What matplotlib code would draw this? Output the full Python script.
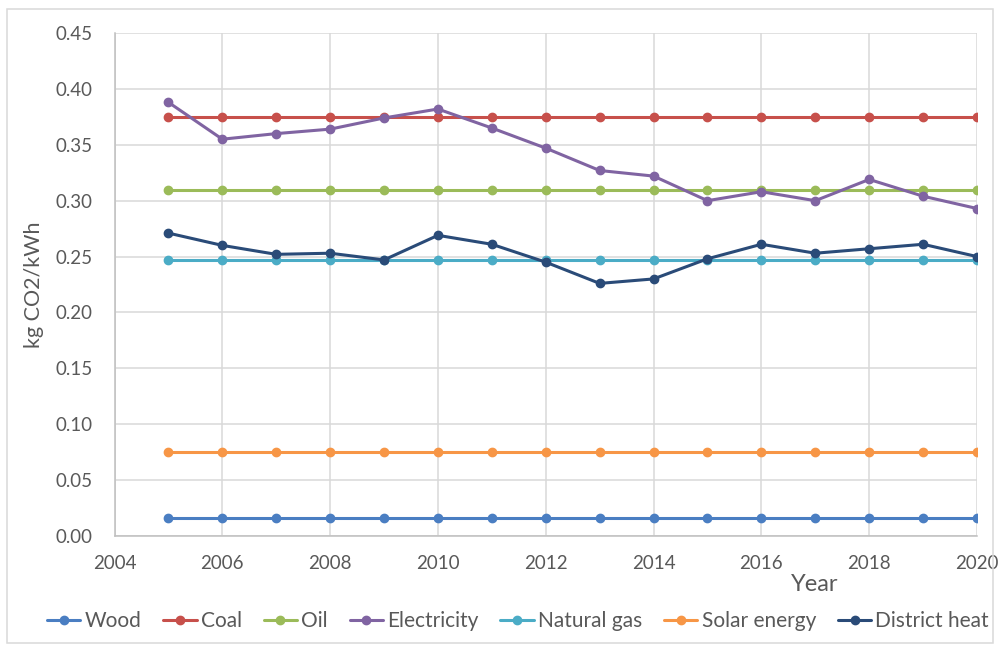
import numpy as np
import matplotlib.pyplot as plt
from matplotlib.patches import Rectangle

plt.rcParams['font.family'] = ['Lato', 'DejaVu Sans']

# Emission factors per energy source, kg CO2 per kWh
years = list(range(2005, 2021))
wood = [0.016] * 16
coal = [0.375] * 16
oil = [0.310] * 16
electricity = [0.388, 0.355, 0.360, 0.364, 0.374, 0.382, 0.365, 0.347,
               0.327, 0.322, 0.300, 0.308, 0.300, 0.319, 0.304, 0.293]
natural_gas = [0.247] * 16
solar_energy = [0.075] * 16
district_heat = [0.271, 0.260, 0.252, 0.253, 0.247, 0.269, 0.261, 0.245,
                 0.226, 0.230, 0.248, 0.261, 0.253, 0.257, 0.261, 0.250]

series = [
    ('Wood', wood, '#4A7EC2'),
    ('Coal', coal, '#C7504B'),
    ('Oil', oil, '#9BBB59'),
    ('Electricity', electricity, '#8064A2'),
    ('Natural gas', natural_gas, '#4BACC6'),
    ('Solar energy', solar_energy, '#F79646'),
    ('District heat', district_heat, '#2A4B78'),
]

fig = plt.figure(figsize=(10, 6.51), dpi=100)
ax = fig.add_axes([0.1145, 0.1766, 0.8625, 0.7727])

for name, vals, col in series:
    ax.plot(years, vals, color=col, lw=2.2, marker='o', markersize=6,
            label=name, solid_capstyle='round')

ax.set_xlim(2004, 2020)
ax.set_ylim(0, 0.45)
ax.set_xticks(np.arange(2004, 2021, 2))
ax.set_yticks(np.arange(0, 0.451, 0.05))
ax.set_yticklabels([f'{v:.2f}' for v in np.arange(0, 0.451, 0.05)])
ax.grid(True, color='#D9D9D9', lw=1.1)
ax.set_axisbelow(True)
for s in ['top', 'right']:
    ax.spines[s].set_visible(False)
for s in ['left', 'bottom']:
    ax.spines[s].set_color('#BFBFBF')
    ax.spines[s].set_linewidth(1.1)
ax.tick_params(length=0, labelsize=13.5, colors='#595959')
ax.tick_params(axis='x', pad=14)
ax.tick_params(axis='y', pad=16)

ax.set_ylabel('kg CO2/kWh', fontsize=15.5, color='#595959', labelpad=8)
ax.text(0.812, -0.096, 'Year', transform=ax.transAxes, ha='center',
        va='center', fontsize=17, color='#595959')

fig.legend(loc='center', bbox_to_anchor=(0.518, 0.046), ncol=7,
           frameon=False, fontsize=15, handlelength=1.6, handletextpad=0.2,
           columnspacing=1.05, labelcolor='#595959')

# light frame around the whole chart
fig.patches.append(Rectangle((0.007, 0.012), 0.986, 0.974, transform=fig.transFigure,
                             fill=False, edgecolor='#D9D9D9', lw=1.1))

fig.savefig('out.png', dpi=100, facecolor='white')
